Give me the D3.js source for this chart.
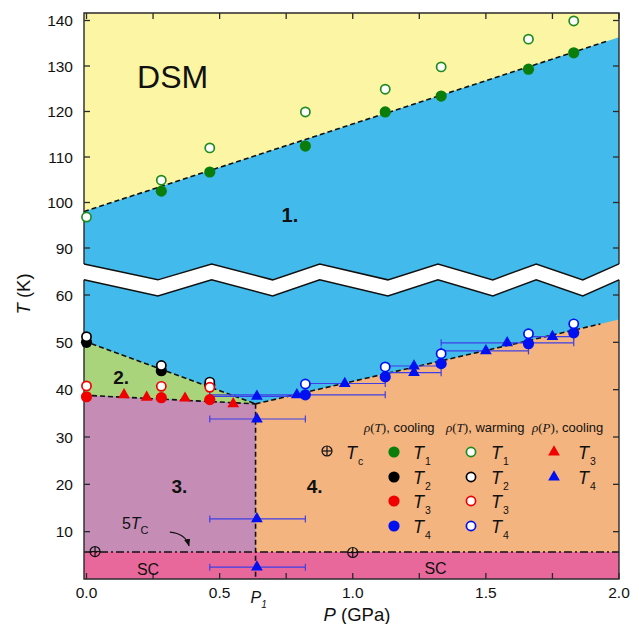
<!DOCTYPE html>
<html><head><meta charset="utf-8">
<script src="https://cdn.jsdelivr.net/npm/d3@7"></script>
<style>
body{margin:0;background:#fff}
svg{display:block}
text{font-family:"Liberation Sans",Arial,sans-serif;fill:#111}
</style>
</head><body>
<svg id="c" width="639" height="624"></svg>
<script>
// ---------------- DATA ----------------
const xTicks = [0, 0.25, 0.5, 0.75, 1.0, 1.25, 1.5, 1.75, 2.0];
const xTickLabels = [0, 0.5, 1.0, 1.5, 2.0];
const yUpperTicks = [90, 100, 110, 120, 130, 140];
const yLowerTicks = [10, 20, 30, 40, 50, 60];

// pressures of the rho(T) runs (GPa)
const pRuns = [0, 0.281, 0.463, 0.822, 1.122, 1.332, 1.66, 1.83];
const T1cool = [null, 102.5, 106.7, 112.4, 119.9, 123.4, 129.3, 132.9];
const T1warm = [96.8, 104.9, 112.0, 119.9, 124.9, 129.8, 135.9, 139.9];
const T2cool = [50.0, 44.0, 41.0, null, null, null, null, null];
const T2warm = [51.2, 45.1, 41.6, null, null, null, null, null];
const T3cool = [38.5, 38.3, 37.9, null, null, null, null, null];
const T3warm = [40.8, 40.7, 40.5, null, null, null, null, null];
const T4cool = [null, null, null, 38.9, 42.7, 45.5, 49.7, 52.0];
const T4warm = [null, null, null, 41.2, 44.8, 47.6, 51.8, 53.9];

// rho(P) cooling
const T3pP = [0.141, 0.226, 0.370, 0.551];
const T3pT = [38.9, 38.4, 38.2, 37.0];
const T4pP  = [0.64, 0.64, 0.64, 0.64, 0.79, 0.97, 1.23, 1.23, 1.50, 1.58, 1.75];
const T4pT  = [38.6, 33.8, 12.7, 2.5, 38.9, 41.3, 45.0, 43.6, 48.2, 49.9, 51.2];
const T4pLo = [0.463, 0.463, 0.463, 0.463, 0.463, 0.822, 1.122, 1.122, 1.332, 1.332, 1.66];
const T4pHi = [0.822, 0.822, 0.822, 0.822, 1.122, 1.122, 1.332, 1.332, 1.66, 1.83, 1.83];

// Tc (plotted at 5Tc)
const TcP = [0.032, 1.0];
const TcT = [5.8, 5.6];

// phase boundaries
const P1 = 0.635;
const Tjunction = 37.0;
const T1line = [[0, 98.2], [2.0, 136.3]];
const T2line = [[0, 50.1], [P1, Tjunction]];
const T3line = [[0, 38.8], [P1, Tjunction]];
const T4line = [[P1, Tjunction], [2.0, 54.8]];
const SCline = 5.7;
const T1dashEnd = 1.955, T4dashEnd = 1.93;

// axis break (zig-zag) positions
const breakP = [0, 0.268, 0.470, 0.699, 0.876, 1.132, 1.320, 1.526, 1.689, 1.864, 2.0];
const breakPeak = [1, 0, 1, 0, 1, 0, 1, 0, 1, 0, 1];
const breakUpperT = [86.5, 83.0];   // upper panel edge (peak, valley)
const breakLowerT = [63.2, 59.8];   // lower panel edge (peak, valley)

// ---------------- LAYOUT ----------------
const svg = d3.select("#c");
const F = {left: 84, right: 619, top: 13, bottom: 579};
const x  = d3.scaleLinear().domain([0, 2]).range([86.5, 619]);
const yU = d3.scaleLinear().domain([90, 140]).range([248, 20.5]);
const yL = d3.scaleLinear().domain([0, 60]).range([579, 295]);
const xMin = x.invert(F.left);

const col = {dsm:"#FCF5A3", blue:"#42BBEC", green:"#A9D47B", purple:"#C58DB6",
             orange:"#F3B47F", sc:"#E8689B", errbar:"#3F3FE6"};

const lU = d3.line().x(d => x(d[0])).y(d => yU(d[1]));
const lL = d3.line().x(d => x(d[0])).y(d => yL(d[1]));
const lineAt = (ln, p) => ln[0][1] + (ln[1][1] - ln[0][1]) / (ln[1][0] - ln[0][0]) * (p - ln[0][0]);

const bP = breakP.map((p, i) => i === 0 ? xMin : p);
const upperBreak = bP.map((p, i) => [p, breakUpperT[breakPeak[i] ? 0 : 1]]);
const lowerBreak = bP.map((p, i) => [p, breakLowerT[breakPeak[i] ? 0 : 1]]);
const upBreakPx = upperBreak.map(d => [x(d[0]), yU(d[1])]);
const loBreakPx = lowerBreak.map(d => [x(d[0]), yL(d[1])]);

const defs = svg.append("defs");
defs.append("clipPath").attr("id", "clipU").append("path")
  .attr("d", "M" + [[F.left, F.top], [F.right, F.top]].concat(upBreakPx.slice().reverse()).join("L") + "Z");
defs.append("clipPath").attr("id", "clipL").append("path")
  .attr("d", "M" + loBreakPx.concat([[F.right, F.bottom], [F.left, F.bottom]]).join("L") + "Z");
defs.append("marker").attr("id", "arr").attr("viewBox", "0 0 10 10").attr("refX", 9).attr("refY", 5)
  .attr("markerWidth", 7).attr("markerHeight", 7).attr("orient", "auto")
  .append("path").attr("d", "M0,1L10,5L0,9Z").attr("fill", "#111");

// ---------- upper panel ----------
const gU = svg.append("g").attr("clip-path", "url(#clipU)");
gU.append("rect").attr("x", F.left).attr("y", F.top).attr("width", F.right - F.left).attr("height", 300).attr("fill", col.blue);
gU.append("path").attr("fill", col.dsm)
  .attr("d", lU([[xMin, lineAt(T1line, xMin)], T1line[1], [2.0, 160], [xMin, 160]]) + "Z");
gU.append("path").attr("fill", "none").attr("stroke", "#111").attr("stroke-width", 1.6).attr("stroke-dasharray", "5,3")
  .attr("d", lU([[xMin, lineAt(T1line, xMin)], [T1dashEnd, lineAt(T1line, T1dashEnd)]]));

// ---------- lower panel ----------
const gL = svg.append("g").attr("clip-path", "url(#clipL)");
gL.append("rect").attr("x", F.left).attr("y", 250).attr("width", F.right - F.left).attr("height", 340).attr("fill", col.blue);
const T2a = lineAt(T2line, xMin), T3a = lineAt(T3line, xMin);
gL.append("path").attr("fill", col.green).attr("d", lL([[xMin, T3a], [P1, Tjunction], [xMin, T2a]]) + "Z");
gL.append("path").attr("fill", col.purple).attr("d", lL([[xMin, SCline], [P1, SCline], [P1, Tjunction], [xMin, T3a]]) + "Z");
gL.append("path").attr("fill", col.orange).attr("d", lL([[P1, SCline], [2.0, SCline], T4line[1], [P1, Tjunction]]) + "Z");
gL.append("path").attr("fill", col.sc).attr("d", lL([[xMin, 0], [2.0, 0], [2.0, SCline], [xMin, SCline]]) + "Z");

const dash = (d) => gL.append("path").attr("fill", "none").attr("stroke", "#111").attr("stroke-width", 1.6).attr("stroke-dasharray", "5,3").attr("d", d);
dash(lL([[xMin, T2a], T2line[1]]));
dash(lL([[xMin, T3a], T3line[1]]));
dash(lL([T4line[0], [T4dashEnd, lineAt(T4line, T4dashEnd)]]));
dash(lL([[P1, Tjunction], [P1, 0]]));
gL.append("path").attr("fill", "none").attr("stroke", "#111").attr("stroke-width", 1.3).attr("stroke-dasharray", "8,3,2,3")
  .attr("d", lL([[xMin, SCline], [2.0, SCline]]));

// ---------- frame & break ----------
const fr = svg.append("g").attr("fill", "none").attr("stroke", "#2a2a2a").attr("stroke-width", 1.4);
fr.append("path").attr("d", "M" + [[F.left, upBreakPx[0][1]], [F.left, F.top], [F.right, F.top], [F.right, upBreakPx[upBreakPx.length-1][1]]].join("L"));
fr.append("path").attr("d", "M" + [[F.left, loBreakPx[0][1]], [F.left, F.bottom], [F.right, F.bottom], [F.right, loBreakPx[loBreakPx.length-1][1]]].join("L"));
svg.append("path").attr("fill", "none").attr("stroke", "#111").attr("stroke-width", 1.5).attr("d", "M" + upBreakPx.join("L"));
svg.append("path").attr("fill", "none").attr("stroke", "#111").attr("stroke-width", 1.5).attr("d", "M" + loBreakPx.join("L"));

// ticks
const tk = svg.append("g").attr("stroke", "#2a2a2a").attr("stroke-width", 1.3);
xTicks.forEach(p => {
  tk.append("line").attr("x1", x(p)).attr("x2", x(p)).attr("y1", F.bottom).attr("y2", F.bottom - 6);
  tk.append("line").attr("x1", x(p)).attr("x2", x(p)).attr("y1", F.top).attr("y2", F.top + 6);
});
yUpperTicks.forEach(t => {
  tk.append("line").attr("x1", F.left).attr("x2", F.left + 6).attr("y1", yU(t)).attr("y2", yU(t));
  tk.append("line").attr("x1", F.right).attr("x2", F.right - 6).attr("y1", yU(t)).attr("y2", yU(t));
});
yLowerTicks.forEach(t => {
  tk.append("line").attr("x1", F.left).attr("x2", F.left + 6).attr("y1", yL(t)).attr("y2", yL(t));
  tk.append("line").attr("x1", F.right).attr("x2", F.right - 6).attr("y1", yL(t)).attr("y2", yL(t));
});
const tl = svg.append("g").attr("font-size", 15.5);
xTickLabels.forEach(p => tl.append("text").attr("x", x(p)).attr("y", 598).attr("text-anchor", "middle").text(d3.format(".1f")(p)));
yUpperTicks.forEach(t => tl.append("text").attr("x", 73).attr("y", yU(t)).attr("dy", "0.36em").attr("text-anchor", "end").text(t));
yLowerTicks.forEach(t => tl.append("text").attr("x", 73).attr("y", yL(t)).attr("dy", "0.36em").attr("text-anchor", "end").text(t));

// P1 label
const p1t = svg.append("text").attr("x", x(P1) - 5).attr("y", 603).attr("font-size", 16).attr("font-style", "italic");
p1t.append("tspan").text("P");
p1t.append("tspan").attr("font-size", 10).attr("dy", 5).text("1");

// axis titles
const xt = svg.append("text").attr("x", 357).attr("y", 621).attr("text-anchor", "middle").attr("font-size", 18.5);
xt.append("tspan").attr("font-style", "italic").text("P");
xt.append("tspan").text(" (GPa)");
const yt = svg.append("text").attr("transform", "translate(30,294) rotate(-90)").attr("text-anchor", "middle").attr("font-size", 18.5);
yt.append("tspan").attr("font-style", "italic").text("T");
yt.append("tspan").text(" (K)");

// ---------- error bars ----------
const eb = svg.append("g").attr("stroke", col.errbar).attr("stroke-width", 1.2).attr("fill", "none");
T4pP.forEach((p, i) => {
  const yy = yL(T4pT[i]);
  eb.append("line").attr("x1", x(T4pLo[i])).attr("x2", x(T4pHi[i])).attr("y1", yy).attr("y2", yy);
  [T4pLo[i], T4pHi[i]].forEach(q => eb.append("line").attr("x1", x(q)).attr("x2", x(q)).attr("y1", yy - 3.5).attr("y2", yy + 3.5));
});

// ---------- markers ----------
const tri = d3.symbol().type(d3.symbolTriangle).size(60);
const mk = svg.append("g");
function filled(vals, scale, color, group) {
  vals.forEach((t, i) => { if (t != null) group.append("circle").attr("cx", x(pRuns[i])).attr("cy", scale(t)).attr("r", 5.6).attr("fill", color); });
}
function open(vals, scale, color, group) {
  vals.forEach((t, i) => { if (t != null) group.append("circle").attr("cx", x(pRuns[i])).attr("cy", scale(t)).attr("r", 4.6).attr("fill", "#fff").attr("stroke", color).attr("stroke-width", 1.7); });
}
filled(T1cool, yU, "#0A7D0A", mk);
open(T1warm, yU, "#1E8C1E", mk);

T3pP.forEach((p, i) => mk.append("path").attr("d", tri).attr("transform", `translate(${x(p)},${yL(T3pT[i])})`).attr("fill", "#F00000"));
T4pP.forEach((p, i) => mk.append("path").attr("d", tri).attr("transform", `translate(${x(p)},${yL(T4pT[i])})`).attr("fill", "#0010F0"));
filled(T3cool, yL, "#F00000", mk);
filled(T2cool, yL, "#000", mk);
filled(T4cool, yL, "#0010F0", mk);
open(T2warm, yL, "#000", mk);
open(T3warm, yL, "#F00000", mk);
open(T4warm, yL, "#0010F0", mk);

function tcSym(g, cx, cy) {
  g.append("circle").attr("cx", cx).attr("cy", cy).attr("r", 5).attr("fill", "none").attr("stroke", "#111").attr("stroke-width", 1.2);
  g.append("line").attr("x1", cx - 5).attr("x2", cx + 5).attr("y1", cy).attr("y2", cy).attr("stroke", "#111").attr("stroke-width", 1.2);
  g.append("line").attr("x1", cx).attr("x2", cx).attr("y1", cy - 5).attr("y2", cy + 5).attr("stroke", "#111").attr("stroke-width", 1.2);
}
TcP.forEach((p, i) => tcSym(mk, x(p), yL(TcT[i])));

// ---------- region labels ----------
const lab = svg.append("g");
lab.append("text").attr("x", x(0.19)).attr("y", yU(125.2)).attr("font-size", 32).text("DSM");
lab.append("text").attr("x", x(0.764)).attr("y", yU(95.7)).attr("text-anchor", "middle").attr("font-size", 20).attr("font-weight", "bold").text("1.");
lab.append("text").attr("x", x(0.13)).attr("y", yL(41.2)).attr("text-anchor", "middle").attr("font-size", 19).attr("font-weight", "bold").text("2.");
lab.append("text").attr("x", x(0.349)).attr("y", yL(18.2)).attr("text-anchor", "middle").attr("font-size", 19).attr("font-weight", "bold").text("3.");
lab.append("text").attr("x", x(0.857)).attr("y", yL(18.2)).attr("text-anchor", "middle").attr("font-size", 19).attr("font-weight", "bold").text("4.");
lab.append("text").attr("x", x(0.231)).attr("y", yL(0.9)).attr("text-anchor", "middle").attr("font-size", 16).attr("fill", "#222").text("SC");
lab.append("text").attr("x", x(1.311)).attr("y", yL(1.0)).attr("text-anchor", "middle").attr("font-size", 16).attr("fill", "#222").text("SC");
const t5 = lab.append("text").attr("x", x(0.133)).attr("y", yL(10.6)).attr("font-size", 16);
t5.append("tspan").text("5");
t5.append("tspan").attr("font-style", "italic").text("T");
t5.append("tspan").attr("font-size", 11).attr("dy", 5).text("C");
// arrow to the 5Tc line
const aFrom = [0.313, 9.9], aCtrl = [0.372, 9.6], aTo = [0.385, 7.0];
const ap = d3.path();
ap.moveTo(x(aFrom[0]), yL(aFrom[1]));
ap.quadraticCurveTo(x(aCtrl[0]), yL(aCtrl[1]), x(aTo[0]), yL(aTo[1]));
lab.append("path").attr("d", ap.toString()).attr("fill", "none").attr("stroke", "#111").attr("stroke-width", 1.1).attr("marker-end", "url(#arr)");

// ---------- legend ----------
const lg = svg.append("g");
const headers = [{x: 364, v: "T", tail: ", cooling"}, {x: 446, v: "T", tail: ", warming"}, {x: 532, v: "P", tail: ", cooling"}];
headers.forEach(h => {
  const t = lg.append("text").attr("x", h.x).attr("y", 432).attr("font-size", 13).attr("fill", "#222");
  t.append("tspan").attr("font-family", "Liberation Serif").attr("font-style", "italic").text("ρ");
  t.append("tspan").attr("font-family", "Liberation Serif").text("(");
  t.append("tspan").attr("font-family", "Liberation Serif").attr("font-style", "italic").text(h.v);
  t.append("tspan").attr("font-family", "Liberation Serif").text(")");
  t.append("tspan").text(h.tail);
});
const rowY = [452, 477, 501, 526];
const legColors = ["#0A7D0A", "#000", "#F00000", "#0010F0"];
const legOpen = ["#1E8C1E", "#000", "#F00000", "#0010F0"];
const subs = ["1", "2", "3", "4"];
function tlabel(xx, yy, sub) {
  const t = lg.append("text").attr("x", xx).attr("y", yy + 7).attr("font-size", 18).attr("font-style", "italic");
  t.append("tspan").text("T");
  t.append("tspan").attr("font-size", 10.5).attr("font-style", "normal").attr("dx", 1).attr("dy", 6).text(sub);
}
rowY.forEach((yy, i) => {
  lg.append("circle").attr("cx", 394).attr("cy", yy).attr("r", 5.6).attr("fill", legColors[i]);
  tlabel(413, yy, subs[i]);
  lg.append("circle").attr("cx", 471).attr("cy", yy).attr("r", 4.6).attr("fill", "#fff").attr("stroke", legOpen[i]).attr("stroke-width", 1.7);
  tlabel(491, yy, subs[i]);
});
[["#F00000", "3"], ["#0010F0", "4"]].forEach((c, i) => {
  lg.append("path").attr("d", tri).attr("transform", `translate(554,${rowY[i]})`).attr("fill", c[0]);
  tlabel(578, rowY[i], c[1]);
});
tcSym(lg, 327, 451);
tlabel(346, rowY[0], "c");
</script>
</body></html>
